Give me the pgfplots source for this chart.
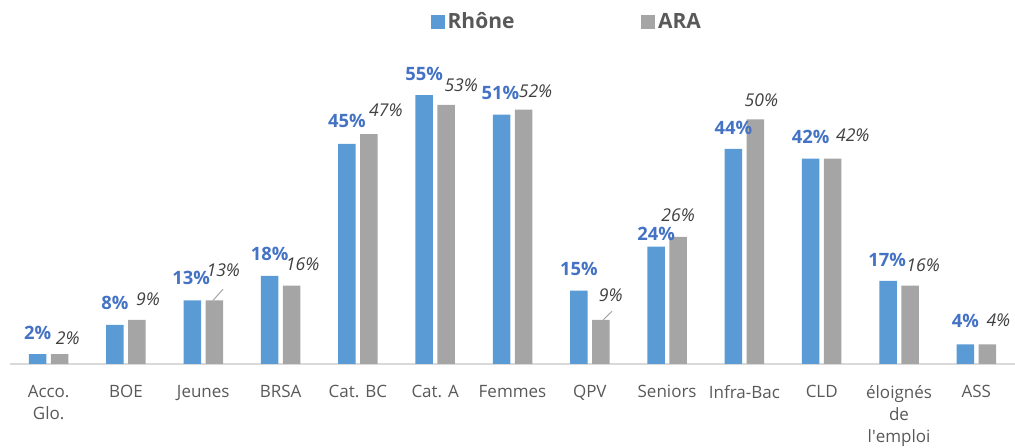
\documentclass[border=0pt]{standalone}
\usepackage{fontspec}
\setmainfont{Open Sans}
\usepackage{pgfplots}
\usepackage{pgfplotstable}
\pgfplotsset{compat=1.18}
\definecolor{rhone}{HTML}{5B9BD5}
\definecolor{ara}{HTML}{A5A5A5}
\definecolor{rhonelab}{HTML}{4472C4}
\definecolor{aralab}{HTML}{404040}
\definecolor{ticktxt}{HTML}{595959}
\definecolor{axisline}{HTML}{D9D9D9}

% x value dx(px) dy(px)
\pgfplotstableread{
x y dx dy
0 2 0 14
1 8 0 15
2 13 -1 15
3 18 0 15
4 45 0 16
5 55 0 14
6 51 -1 15
7 15 0 15
8 24 0 6
9 44 0 14
10 42 0 15
11 17 -1 14
12 4 0 16
}\rhonedata

\pgfplotstableread{
x y dx dy
0 2 8 9
1 9 11 14
2 13 9 23
3 16 11 15
4 47 17 17
5 53 15 13
6 52 12 12
7 9 10 18
8 26 0 15
9 50 6 12
10 42 20 17
11 16 13 14
12 4 11 17
}\aradata

\begin{document}
\begin{tikzpicture}
\begin{axis}[
  scale only axis,
  width=502.5pt, height=146.7pt,
  xmin=-0.5, xmax=12.5, ymin=0, ymax=60,
  ybar=2.25pt, bar width=8.75pt,
  /pgf/number format/assume math mode=true,
  axis x line*=bottom,
  hide y axis,
  x axis line style={draw=axisline, line width=0.75pt, -},
  xtick={0,...,12},
  xticklabels={{Acco.\\Glo.},BOE,Jeunes,BRSA,Cat. BC,Cat. A,Femmes,QPV,Seniors,Infra-Bac,CLD,{éloignés\\de\\l\textquotesingle emploi},ASS},
  major tick length=0pt,
  xticklabel style={font=\fontsize{8.5}{11}\selectfont, text=ticktxt, align=center, anchor=north, yshift=-7pt},
  ytick=\empty,
  clip=false,
  legend columns=2,
  legend style={draw=none, fill=none, at={(0.5547,1.1656)}, anchor=center,
    font=\bfseries\fontsize{10.5}{12}\selectfont, text=ticktxt,
    nodes={inner sep=1.5pt},
    /tikz/every even column/.append style={column sep=62pt}},
]
\addplot[fill=rhone, draw=none,
  legend image code/.code={\fill[rhone] (0pt,-3.4pt) rectangle (6.8pt,3.4pt);},
  nodes near coords={\pgfmathprintnumber{\pgfplotspointmeta}\%},
  visualization depends on={\thisrow{dx}\as\labdx},
  visualization depends on={\thisrow{dy}\as\labdy},
  every node near coord/.append style={font=\bfseries\fontsize{9.2}{10}\selectfont, text=rhonelab, anchor=south, inner sep=0pt, xshift=\labdx*0.5pt, yshift=\labdy*0.5pt}
] table[x=x,y=y] {\rhonedata};
\addplot[fill=ara, draw=none,
  legend image code/.code={\fill[ara] (0pt,-3.4pt) rectangle (6.8pt,3.4pt);},
  nodes near coords={\pgfmathprintnumber{\pgfplotspointmeta}\%},
  visualization depends on={\thisrow{dx}\as\labdx},
  visualization depends on={\thisrow{dy}\as\labdy},
  every node near coord/.append style={font=\itshape\fontsize{8.8}{10}\selectfont, text=aralab, anchor=south, inner sep=0pt, xshift=\labdx*0.5pt, yshift=\labdy*0.5pt}
] table[x=x,y=y] {\aradata};
\legend{Rhône,ARA}
\draw[color=ara, line width=0.5pt] (axis cs:2.126,13) -- (axis cs:2.256,15.3);
\draw[color=ara, line width=0.5pt] (axis cs:7.171,9) -- (axis cs:7.288,10.8);
\coordinate (bbsw) at (rel axis cs:-0.00995,-0.2863);
\coordinate (bbne) at (rel axis cs:1,1.2406);
\end{axis}
\pgfresetboundingbox
\path[use as bounding box] (bbsw) rectangle (bbne);
\end{tikzpicture}
\end{document}
